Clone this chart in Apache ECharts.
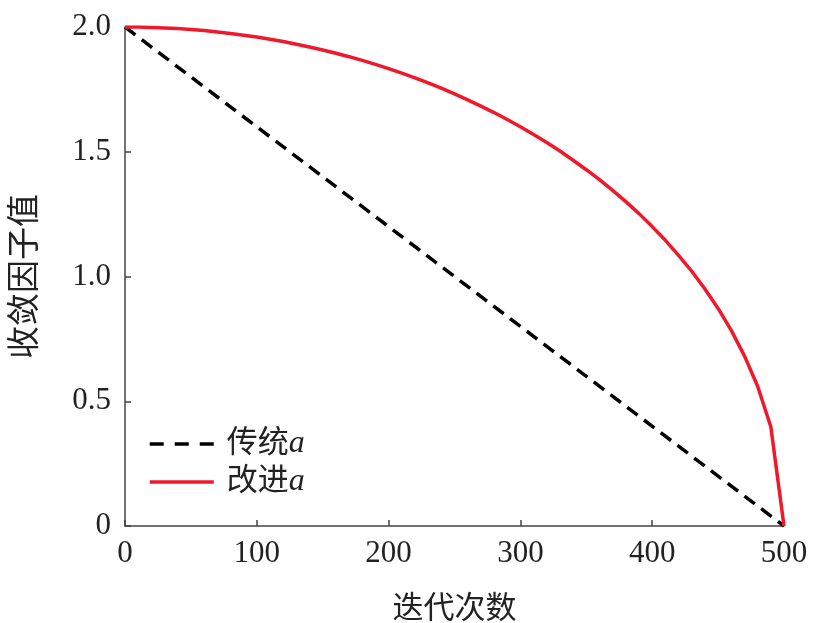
<!DOCTYPE html>
<html><head><meta charset="utf-8">
<script src="https://cdn.jsdelivr.net/npm/echarts@6/dist/echarts.min.js"></script>
<style>html,body{margin:0;padding:0;background:#fff}#c{width:821px;height:623px}</style>
</head><body><div id="c"></div>
<script>
const iterations = [0,10,20,30,40,50,60,70,80,90,100,110,120,130,140,150,160,170,180,190,200,210,220,230,240,250,260,270,280,290,300,310,320,330,340,350,360,370,380,390,400,410,420,430,440,450,460,470,480,490,500];
const improvedA = [2.000,2.000,1.998,1.996,1.994,1.990,1.986,1.980,1.974,1.967,1.960,1.951,1.942,1.931,1.920,1.908,1.895,1.881,1.866,1.850,1.833,1.815,1.796,1.776,1.755,1.732,1.708,1.683,1.657,1.629,1.600,1.569,1.537,1.503,1.466,1.428,1.388,1.345,1.300,1.252,1.200,1.145,1.085,1.021,0.950,0.872,0.784,0.682,0.560,0.398,0.000];
const traditionalX = [0,500];
const traditionalA = [2.0,0.0];
const xTicks = [0,100,200,300,400,500];
const yTicks = ['0','0.5','1.0','1.5','2.0'];
const seriesNames = ['传统a','改进a'];

const serif = '"Liberation Serif","Times New Roman",serif';
const cjk = '"Liberation Serif","Noto Sans CJK SC",serif';
const chart = echarts.init(document.getElementById('c'));
chart.setOption({
  animation:false,
  backgroundColor:'#fff',
  grid:{left:125,right:37,top:27,bottom:97,outerBoundsMode:'none',containLabel:false},
  legend:{
    left:143, top:423, orient:'vertical', itemWidth:64, itemHeight:12, itemGap:6,
    data:[
      {name:seriesNames[0],lineStyle:{type:[14,11],width:3.5}},
      {name:seriesNames[1],lineStyle:{width:3.5}}
    ],
    itemStyle:{opacity:0},
    formatter:function(n){return '{c|'+n.slice(0,2)+'}{i|a}';},
    textStyle:{rich:{
      c:{fontFamily:cjk,fontSize:31,color:'#222',padding:[0,0,0,8]},
      i:{fontFamily:serif,fontStyle:'italic',fontSize:32,color:'#222'}
    }}
  },
  xAxis:{
    type:'value',min:0,max:500,interval:100,
    name:'迭代次数',nameLocation:'middle',nameGap:68,
    nameTextStyle:{fontFamily:cjk,fontSize:31,color:'#222'},
    axisLine:{lineStyle:{color:'#444',width:1.5}},
    axisTick:{inside:true,length:6,lineStyle:{color:'#444',width:1.5}},
    axisLabel:{margin:12,fontFamily:serif,fontSize:31,color:'#222',
      formatter:function(v){return xTicks.indexOf(v)>=0?String(v):'';}},
    splitLine:{show:false}
  },
  yAxis:{
    type:'value',min:0,max:2,interval:0.5,
    name:'收敛因子值',nameLocation:'middle',nameRotate:90,nameGap:82,
    nameTextStyle:{fontFamily:cjk,fontSize:33,color:'#222'},
    axisLine:{show:true,lineStyle:{color:'#444',width:1.5}},
    axisTick:{show:true,inside:true,length:6,lineStyle:{color:'#444',width:1.5}},
    axisLabel:{margin:14,fontFamily:serif,fontSize:31,color:'#222',
      formatter:function(v){return yTicks[Math.round(v/0.5)];}},
    splitLine:{show:false}
  },
  series:[
    {name:seriesNames[0],type:'line',symbol:'none',
      data:traditionalX.map((x,i)=>[x,traditionalA[i]]),
      lineStyle:{color:'#000',width:3.5,type:[13,8]},itemStyle:{color:'#000'}},
    {name:seriesNames[1],type:'line',symbol:'none',
      data:iterations.map((x,i)=>[x,improvedA[i]]),
      lineStyle:{color:'#f0182a',width:3.5},itemStyle:{color:'#f0182a'}}
  ]
});
</script></body></html>
